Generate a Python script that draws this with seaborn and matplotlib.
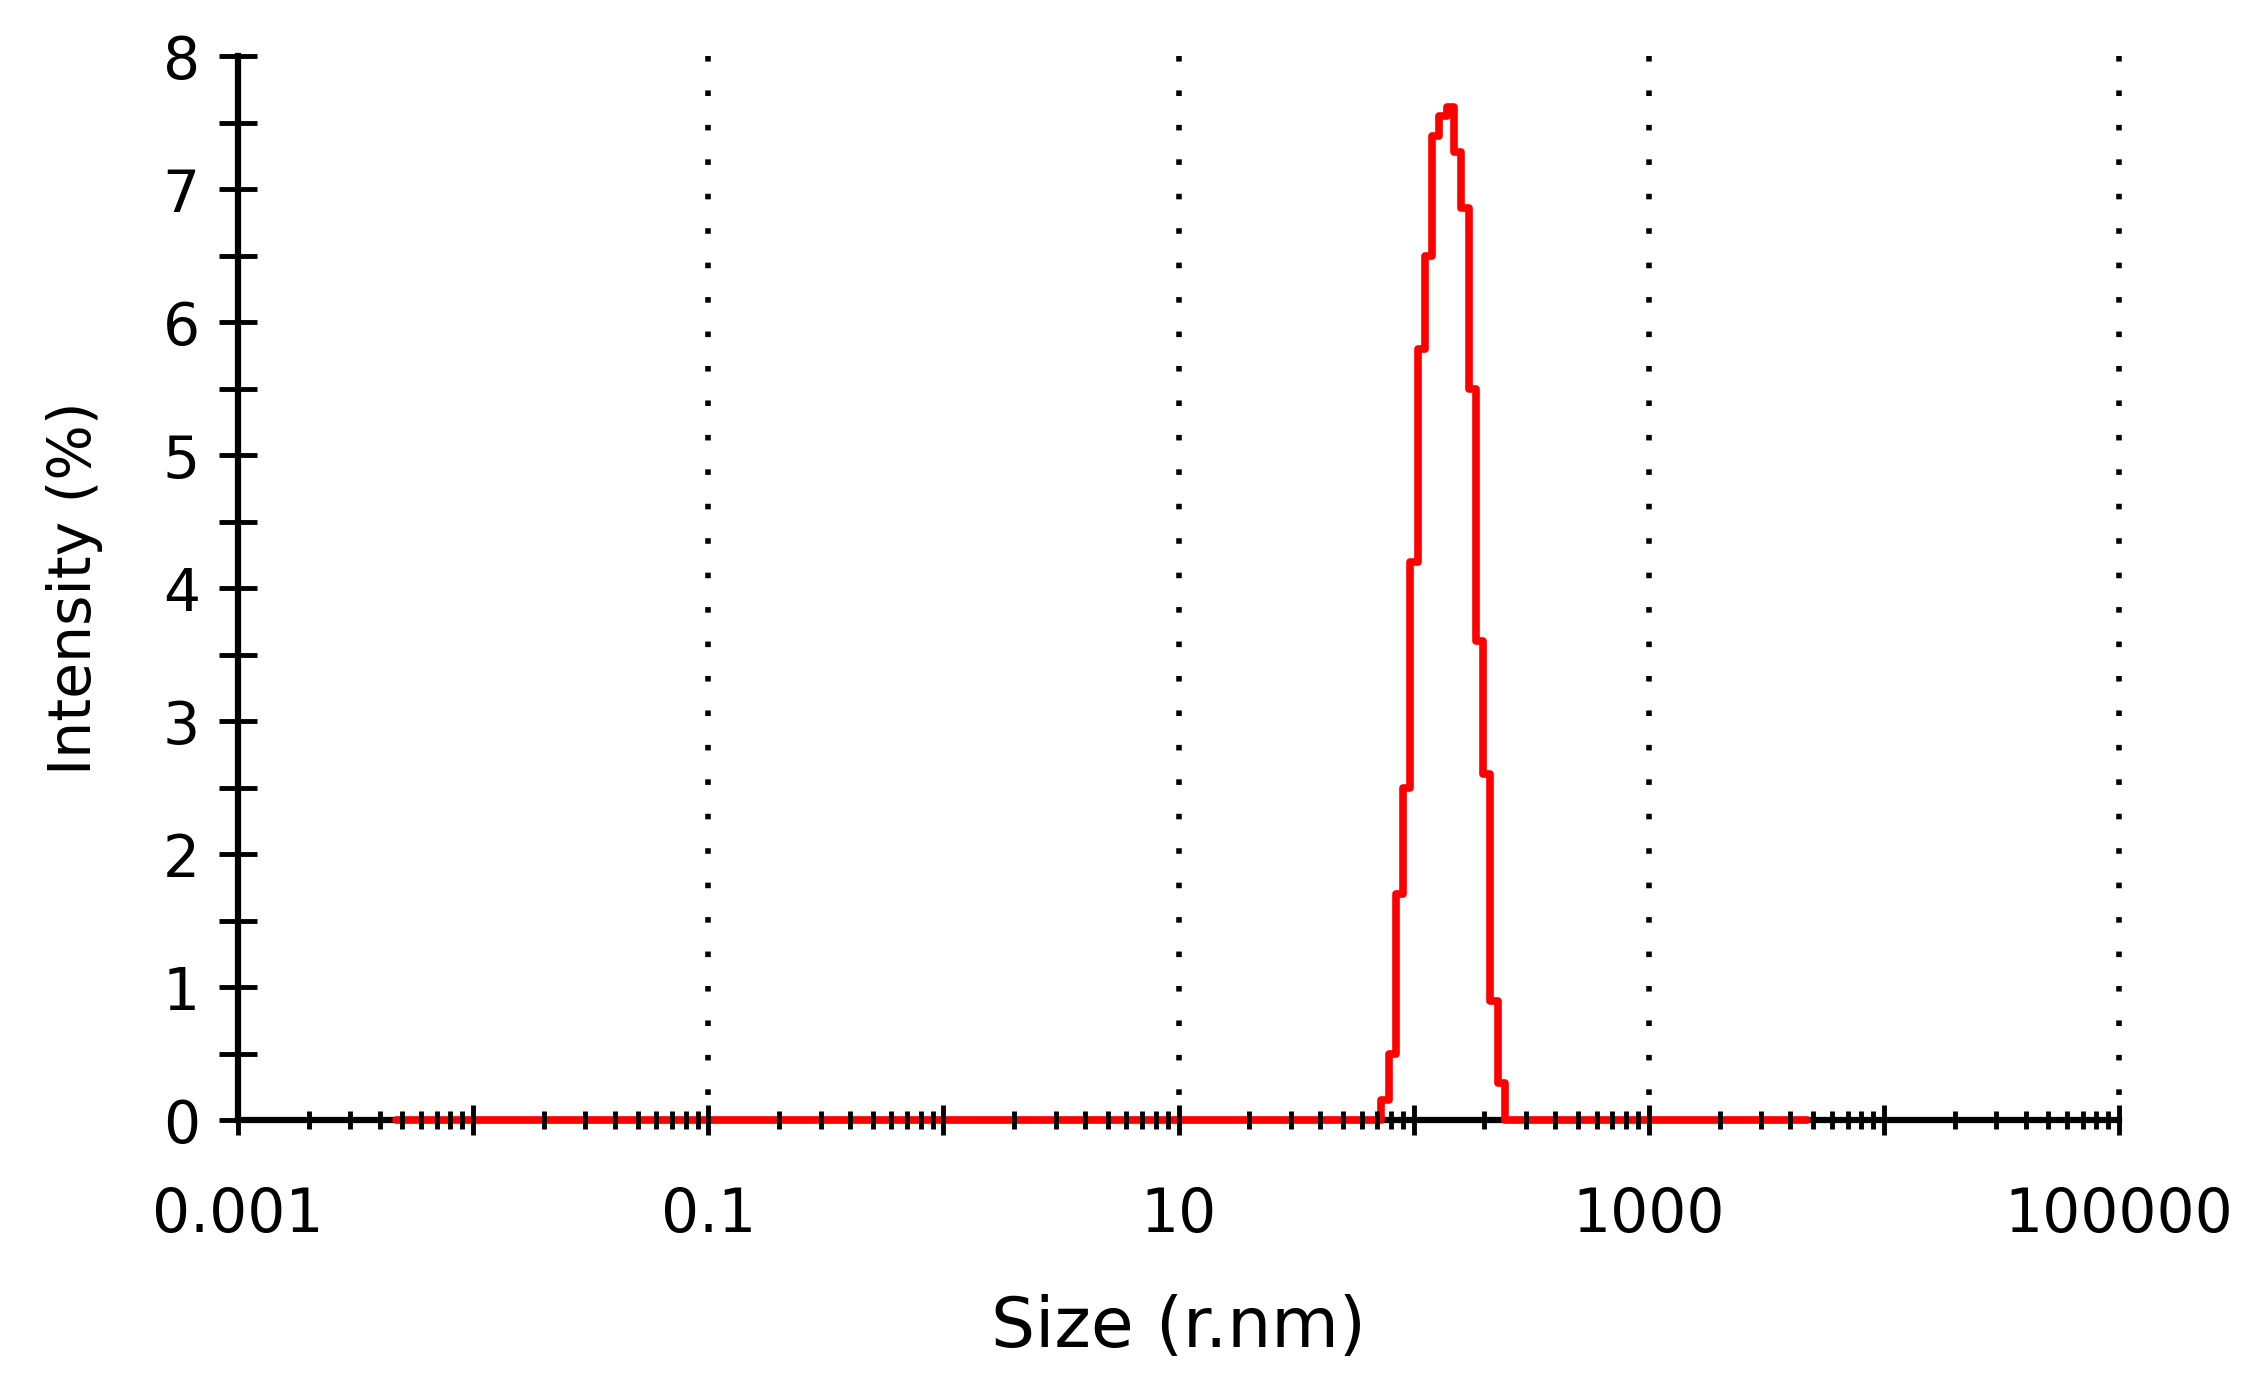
import numpy as np
import pandas as pd
import matplotlib
matplotlib.use("Agg")
import matplotlib.pyplot as plt
import matplotlib.ticker as mticker
import seaborn as sns

# size classes (r.nm, left edge of each bin) and intensity (%)
size_nm = [0.0047, 72.9, 78.2, 84.0, 90.2, 96.8, 104.0, 111.6, 119.9, 128.7,
           138.2, 148.4, 159.4, 171.1, 183.8, 197.3, 211.8, 227.5, 244.2, 4720.0]
intensity = [0.0, 0.15, 0.5, 1.7, 2.5, 4.2, 5.8, 6.5, 7.4, 7.55,
             7.62, 7.28, 6.86, 5.5, 3.6, 2.6, 0.9, 0.28, 0.0, 0.0]

x_ticks = [0.001, 0.01, 0.1, 1, 10, 100, 1000, 10000, 100000]
x_labels = ["0.001", "", "0.1", "", "10", "", "1000", "", "100000"]
grid_x = [0.1, 10, 1000, 100000]
y_ticks = [0, 1, 2, 3, 4, 5, 6, 7, 8]

df = pd.DataFrame({"Size": size_nm, "Intensity": intensity})

sns.set_style("white")
plt.rcParams['font.family'] = ['DejaVu Sans']
plt.rcParams['text.color'] = 'black'
plt.rcParams['axes.labelcolor'] = 'black'

fig = plt.figure(figsize=(22.63, 13.87), dpi=100)
ax = fig.add_axes([0.1052, 0.1922, 0.8312, 0.7674])

# dotted vertical grid, drawn from the top down so a dot sits at y = 8
ax.vlines(grid_x, y_ticks[-1], y_ticks[0], color='black', linestyle=(0, (1, 5.2)),
          lw=4, clip_on=False, zorder=1)

sns.lineplot(data=df, x="Size", y="Intensity", ax=ax, color='red',
             drawstyle='steps-post', lw=5.5, clip_on=False, zorder=3)

ax.set_xscale('log')
ax.set_xlim(0.001, 100000)
ax.set_ylim(0, 8)

ax.xaxis.set_major_locator(mticker.FixedLocator(x_ticks))
ax.xaxis.set_major_formatter(mticker.FixedFormatter(x_labels))
ax.xaxis.set_minor_locator(mticker.LogLocator(base=10, subs=np.arange(2, 10), numticks=50))
ax.xaxis.set_minor_formatter(mticker.NullFormatter())
ax.set_yticks(y_ticks)
ax.yaxis.set_minor_locator(mticker.MultipleLocator(0.5))

for s in ['top', 'right']:
    ax.spines[s].set_visible(False)
for s in ['left', 'bottom']:
    ax.spines[s].set_linewidth(4.5)
    ax.spines[s].set_color('black')

ax.tick_params(axis='x', which='both', bottom=True, top=False)
ax.tick_params(axis='y', which='both', left=True, right=False)
ax.tick_params(axis='x', which='major', direction='inout', length=22, width=3.5,
               color='black', labelcolor='black', labelsize=43, pad=36)
ax.tick_params(axis='x', which='minor', direction='inout', length=13, width=3.5,
               color='black')
ax.tick_params(axis='y', which='both', direction='inout', length=27, width=3.5,
               color='black', labelcolor='black', labelsize=42, pad=14)
ax.xaxis.set_zorder(4)

ax.set_xlabel("Size (r.nm)", fontsize=50, color='black')
ax.set_ylabel("Intensity (%)", fontsize=42, color='black')
ax.xaxis.set_label_coords(0.5, -0.163)
ax.yaxis.set_label_coords(-0.072, 0.5)

fig.savefig("out.png", dpi=100, facecolor='white')
